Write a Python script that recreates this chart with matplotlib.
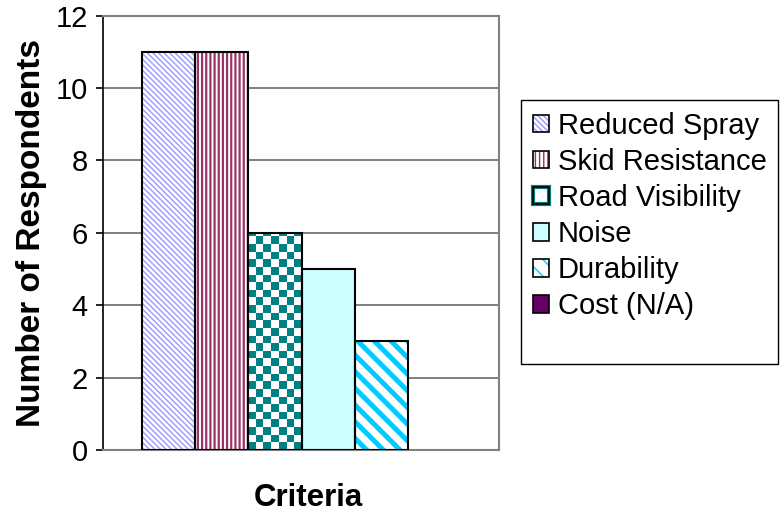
import matplotlib
matplotlib.use("Agg")
import matplotlib.pyplot as plt
import numpy as np
from matplotlib.patches import Patch, Rectangle
from matplotlib.legend_handler import HandlerTuple
from matplotlib.colors import ListedColormap

plt.rcParams['font.family'] = ['Liberation Sans', 'DejaVu Sans']

# DATA
labels = ['Reduced Spray', 'Skid Resistance', 'Road Visibility', 'Noise',
          'Durability', 'Cost (N/A)']
values = [11, 11, 6, 5, 3, 0]
yticks = [0, 2, 4, 6, 8, 10, 12]

# STYLES: (face colour, hatch, hatch colour, hatch width)
styles = [
    ('white', '\\' * 6, '#9999FF', 1.0),
    ('white', '||||', '#993366', 1.6),
    ('white', None, '#008080', 0),      # checkerboard drawn separately
    ('#CCFFFF', None, 'black', 0),
    ('white', '\\' * 2, '#00CCFF', 3.6),
    ('#660066', None, 'black', 0),
]

fig = plt.figure(figsize=(7.8, 5.14), dpi=100)
ax = fig.add_axes([102.5 / 780, 1 - 450 / 514, (499 - 102.5) / 780, (450 - 15.7) / 514])

n = len(values)
xs = np.arange(n) - (n - 1) / 2
ax.set_xlim(-3.75, 3.72)
ax.set_ylim(0, 12)

handles = []
for x, v, lab, (fc, hatch, hc, hlw) in zip(xs, values, labels, styles):
    fill = ax.bar(x, v, width=1.0, color=fc, edgecolor=hc, hatch=hatch,
                  linewidth=0, zorder=2)[0]
    if hatch:
        fill.set_hatch_linewidth(hlw)
    if v > 0:
        ax.bar(x, v, width=1.0, fill=False, edgecolor='black', linewidth=1.5, zorder=3)

    # legend proxy
    p_fill = Patch(facecolor=fc, edgecolor=hc, hatch=hatch, linewidth=0)
    if hatch:
        p_fill.set_hatch_linewidth(hlw * 0.7)
    if lab == 'Road Visibility':
        p_fill = Patch(facecolor='white', edgecolor='#008080', linewidth=3)
    p_line = Patch(facecolor='none', edgecolor='black', linewidth=1.2)
    handles.append((p_fill, p_line))

    if lab == 'Road Visibility':
        # checkerboard pattern clipped to the bar
        (x0, y0), (x1, y1) = ax.transData.transform([(x - 0.5, 0), (x + 0.5, v)])
        cell = 7.6
        nc = max(1, int(round((x1 - x0) / cell)))
        nr = max(1, int(round((y1 - y0) / cell)))
        board = (np.add.outer(np.arange(nr), np.arange(nc)) % 2).astype(float)
        cmap = ListedColormap(['#008080', 'white'])
        im = ax.imshow(board, cmap=cmap, interpolation='nearest', aspect='auto',
                       extent=(x - 0.5, x - 0.5 + nc * cell / (x1 - x0), 0,
                               nr * cell * v / (y1 - y0)), zorder=2, origin='lower')
        im.set_clip_path(fill)

ax.set_xlim(-3.75, 3.72)
ax.set_ylim(0, 12)

# AXES STYLING
ax.set_yticks(yticks)
ax.set_xticks([])
ax.tick_params(axis='y', labelsize=21, length=5, width=1.2, pad=5.5, color='black')
ax.yaxis.grid(True, color='#808080', linewidth=1.4, zorder=0)
ax.set_axisbelow(True)
for side in ['top', 'right', 'bottom']:
    ax.spines[side].set_color('#808080')
    ax.spines[side].set_linewidth(1.5)
ax.spines['left'].set_color('black')
ax.spines['left'].set_linewidth(1.2)

ax.set_ylabel('Number of Respondents', fontsize=24, fontweight='bold', labelpad=6)
ax.set_xlabel('Criteria', fontsize=22.5, fontweight='bold')
ax.xaxis.set_label_coords(0.518, -(506.5 - 450) / 434.3, transform=ax.transAxes)
ax.xaxis.label.set_va('baseline')

# legend frame drawn as its own box
fig.patches.append(Rectangle((521 / 780, 1 - 364 / 514), (778 - 521) / 780, (364 - 100) / 514,
                             transform=fig.transFigure, fill=False,
                             edgecolor='black', linewidth=1.0))
leg = fig.legend(handles, labels, handler_map={tuple: HandlerTuple(ndivide=1, pad=0)},
                 loc='upper left', bbox_to_anchor=(521 / 780, 1 - 100 / 514),
                 fontsize=21, frameon=False, borderaxespad=0,
                 handlelength=0.55, handleheight=0.55, handletextpad=0.32,
                 labelspacing=0.28, borderpad=0.4)

plt.savefig('out.png', dpi=100)
